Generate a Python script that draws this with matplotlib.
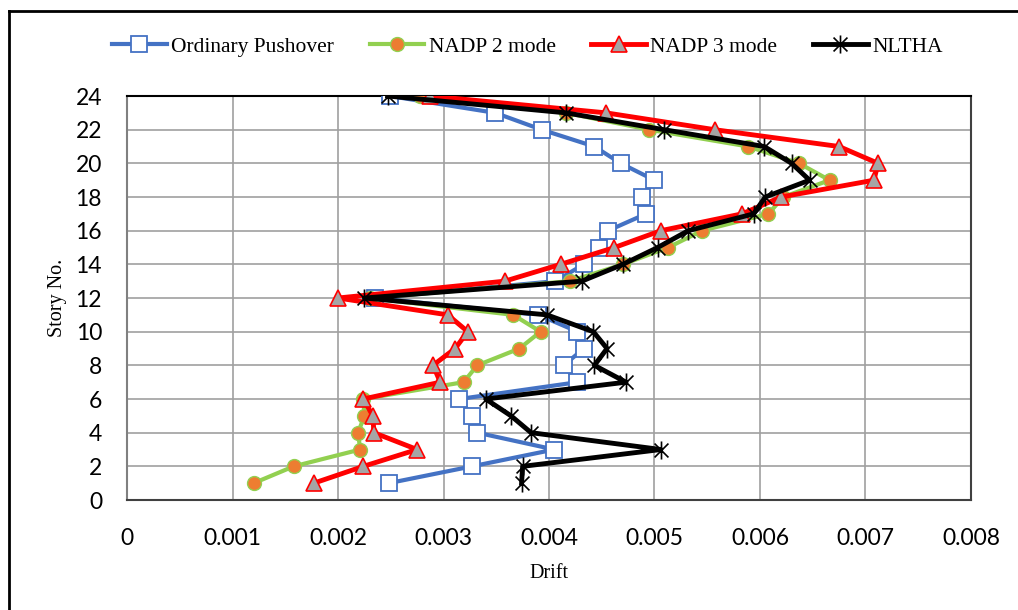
import matplotlib.pyplot as plt
import numpy as np
from matplotlib.path import Path
from matplotlib.lines import Line2D

# Story levels and drift values
stories = list(range(1, 25))
ordinary_pushover = [0.00248, 0.00327, 0.00405, 0.00332, 0.00327, 0.00315, 0.00427, 0.00414,
                     0.00433, 0.00427, 0.00390, 0.00235, 0.00406, 0.00433, 0.00447, 0.00456,
                     0.00492, 0.00488, 0.00500, 0.00468, 0.00443, 0.00393, 0.00349, 0.00249]
nadp_2 = [0.00120, 0.00158, 0.00221, 0.00219, 0.00225, 0.00224, 0.00319, 0.00332,
          0.00372, 0.00392, 0.00366, 0.00230, 0.00420, 0.00470, 0.00513, 0.00545,
          0.00608, 0.00622, 0.00666, 0.00637, 0.00589, 0.00495, 0.00416, 0.00278]
nadp_3 = [0.00177, 0.00224, 0.00275, 0.00234, 0.00233, 0.00224, 0.00297, 0.00290,
          0.00311, 0.00323, 0.00304, 0.00200, 0.00358, 0.00411, 0.00462, 0.00506,
          0.00583, 0.00620, 0.00708, 0.00712, 0.00675, 0.00557, 0.00454, 0.00287]
nlth = [0.00374, 0.00375, 0.00506, 0.00383, 0.00364, 0.00340, 0.00473, 0.00443,
        0.00455, 0.00442, 0.00398, 0.00225, 0.00431, 0.00470, 0.00503, 0.00532,
        0.00594, 0.00605, 0.00647, 0.00630, 0.00604, 0.00509, 0.00416, 0.00247]

# Excel-style star marker: X with a vertical bar
star = Path([(-1, -1), (1, 1), (-1, 1), (1, -1), (0, -1.3), (0, 1.3)],
            [Path.MOVETO, Path.LINETO, Path.MOVETO, Path.LINETO, Path.MOVETO, Path.LINETO])

fig = plt.figure(figsize=(10.18, 6.10), dpi=100)
ax = fig.add_axes([0.1248, 0.1803, 0.829, 0.6623])

ax.plot(ordinary_pushover, stories, color='#4472C4', lw=3, marker='s', ms=11,
        mfc='white', mec='#4472C4', mew=1.3, label='Ordinary Pushover', zorder=3)
ax.plot(nadp_2, stories, color='#92D050', lw=3, marker='o', ms=10,
        mfc='#ED7D31', mec='#92D050', mew=1, label='NADP 2 mode', zorder=4)
ax.plot(nadp_3, stories, color='#FF0000', lw=3.5, marker='^', ms=12,
        mfc='#A5A5A5', mec='#FF0000', mew=1.2, label='NADP 3 mode', zorder=5)
ax.plot(nlth, stories, color='black', lw=3.5, marker=star, ms=13,
        mfc='none', mec='black', mew=1.2, label='NLTHA', zorder=6)

ax.set_xlim(0, 0.008)
ax.set_ylim(0, 24)
ax.set_xticks(np.arange(0, 0.0081, 0.001))
ax.set_xticklabels(['0'] + ['%.3f' % v for v in np.arange(0.001, 0.0081, 0.001)])
ax.set_yticks(range(0, 25, 2))
ax.grid(True, color='#A0A0A0', lw=1.2)
ax.set_axisbelow(True)
ax.tick_params(length=0, labelsize=16.5)
ax.tick_params(axis='y', pad=18)
ax.tick_params(axis='x', pad=20)
for lab in ax.get_xticklabels() + ax.get_yticklabels():
    lab.set_fontfamily('Lato')
for s in ax.spines.values():
    s.set_color('#404040')
    s.set_linewidth(1.5)
ax.spines['left'].set_color('#808080')
ax.spines['top'].set_color('black')

ax.set_xlabel('Drift', family='Liberation Serif', fontsize=14.5, labelpad=11)
ax.set_ylabel('Story No.', family='Liberation Serif', fontsize=14.5, labelpad=6)

fig.legend(loc='upper center', bbox_to_anchor=(0.518, 0.972), ncol=4, frameon=False,
           prop={'family': 'Liberation Serif', 'size': 15.5}, handlelength=2.55,
           columnspacing=1.65, handletextpad=0.2)

# partial outer chart border (left and top visible in the crop)
fig.add_artist(Line2D([9 / 1018, 9 / 1018], [0, 1 - 11 / 610], color='black', lw=2,
                      transform=fig.transFigure))
fig.add_artist(Line2D([9 / 1018, 1], [1 - 11 / 610, 1 - 11 / 610], color='black', lw=2,
                      transform=fig.transFigure))

fig.savefig('out.png', dpi=100)
